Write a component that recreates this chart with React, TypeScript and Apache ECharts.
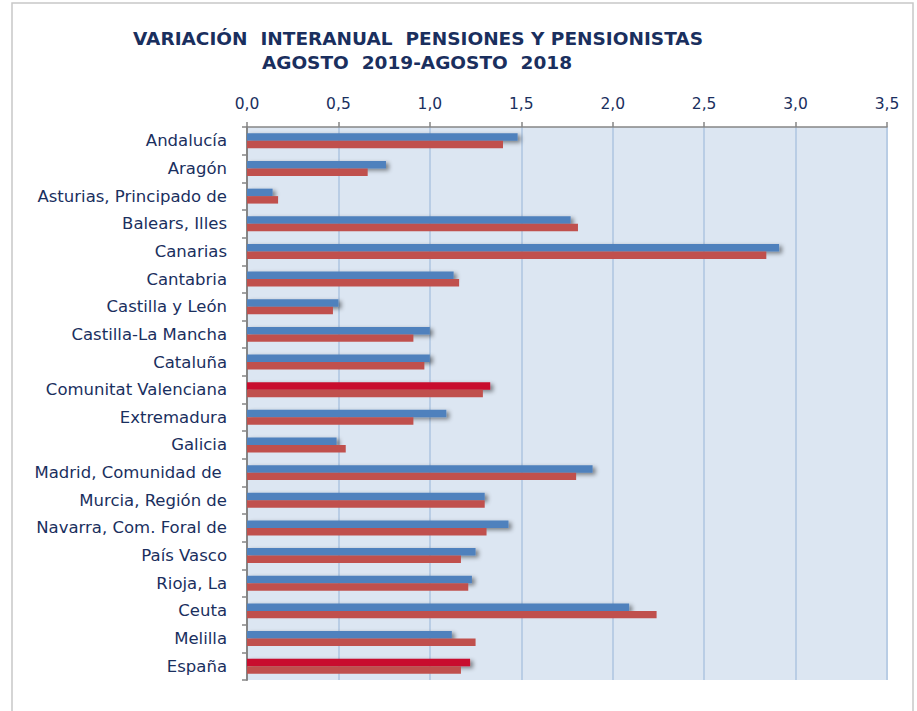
import React, { useEffect, useRef } from "react";
import * as echarts from "echarts";

const categories = [
  "Andalucía",
  "Aragón",
  "Asturias, Principado de",
  "Balears, Illes",
  "Canarias",
  "Cantabria",
  "Castilla y León",
  "Castilla-La Mancha",
  "Cataluña",
  "Comunitat Valenciana",
  "Extremadura",
  "Galicia",
  "Madrid, Comunidad de ",
  "Murcia, Región de",
  "Navarra, Com. Foral de",
  "País Vasco",
  "Rioja, La",
  "Ceuta",
  "Melilla",
  "España",
];

const pensiones = [
  1.48, 0.76, 0.14, 1.77, 2.91, 1.13, 0.5, 1.0, 1.0, 1.33, 1.09, 0.49, 1.89, 1.3, 1.43, 1.25, 1.23, 2.09,
  1.12, 1.22,
];

const pensionistas = [
  1.4, 0.66, 0.17, 1.81, 2.84, 1.16, 0.47, 0.91, 0.97, 1.29, 0.91, 0.54, 1.8, 1.3, 1.31, 1.17, 1.21, 2.24,
  1.25, 1.17,
];

const highlighted = ["Comunitat Valenciana", "España"];

const xTicks = { min: 0, max: 3.5, interval: 0.5 };

const titleLines = ["VARIACIÓN  INTERANUAL  PENSIONES Y PENSIONISTAS", "AGOSTO  2019-AGOSTO  2018"];

export default function App() {
  const ref = useRef<HTMLDivElement>(null);

  useEffect(() => {
    if (!ref.current) return;
    const chart = echarts.init(ref.current, null, { renderer: "svg" });
    const shadow = {
      shadowColor: "rgba(0,0,0,0.45)",
      shadowBlur: 4,
      shadowOffsetX: 3,
      shadowOffsetY: 2,
    };
    const titleFont = "bold 18.5px 'DejaVu Sans', sans-serif";
    chart.setOption({
      animation: false,
      backgroundColor: "#ffffff",
      graphic: [
        {
          type: "rect",
          shape: { x: 12, y: 3, width: 901, height: 740 },
          style: { fill: "none", stroke: "#C8C8C8", lineWidth: 1.5 },
          silent: true,
          z: -10,
        },
        {
          type: "text",
          x: 418,
          y: 38,
          style: {
            text: titleLines[0],
            font: titleFont,
            fill: "#1A2F5E",
            textAlign: "center",
            textVerticalAlign: "middle",
          },
        },
        {
          type: "text",
          x: 417,
          y: 62,
          style: {
            text: titleLines[1],
            font: titleFont,
            fill: "#1A2F5E",
            textAlign: "center",
            textVerticalAlign: "middle",
          },
        },
      ],
      grid: {
        left: 247,
        right: 30,
        top: 127,
        bottom: 31,
        show: true,
        backgroundColor: "#DCE6F2",
        borderWidth: 0,
      },
      xAxis: {
        type: "value",
        position: "top",
        min: xTicks.min,
        max: xTicks.max,
        interval: xTicks.interval,
        axisLine: { show: true, lineStyle: { color: "#868686", width: 1.5 } },
        axisTick: { show: true, length: 5, lineStyle: { color: "#868686", width: 1.5 } },
        axisLabel: {
          formatter: (v: number) => v.toFixed(1).replace(".", ","),
          color: "#1A2F5E",
          fontSize: 15.5,
          fontFamily: "'DejaVu Sans', sans-serif",
          margin: 15,
        },
        splitLine: { show: true, lineStyle: { color: "#B9CDE5", width: 2 } },
      },
      yAxis: {
        type: "category",
        inverse: true,
        data: categories,
        axisLine: { show: true, lineStyle: { color: "#868686", width: 2 } },
        axisTick: { show: true, length: 5, lineStyle: { color: "#868686", width: 1.5 } },
        axisLabel: {
          color: "#1A2F5E",
          fontSize: 16.5,
          fontFamily: "'DejaVu Sans', sans-serif",
          margin: 20,
        },
      },
      series: [
        {
          name: "Pensiones",
          type: "bar",
          barGap: "0%",
          barCategoryGap: "46%",
          data: pensiones.map((v, i) => ({
            value: v,
            itemStyle: highlighted.includes(categories[i]) ? { color: "#C8102E" } : undefined,
          })),
          itemStyle: { color: "#4F81BD", ...shadow },
        },
        {
          name: "Pensionistas",
          type: "bar",
          barGap: "0%",
          barCategoryGap: "46%",
          data: pensionistas,
          itemStyle: { color: "#C0504D" },
        },
      ],
    });
    return () => chart.dispose();
  }, []);

  return (
    <div
      ref={ref}
      style={{ position: "fixed", left: 0, top: 0, width: 917, height: 711 }}
    />
  );
}
